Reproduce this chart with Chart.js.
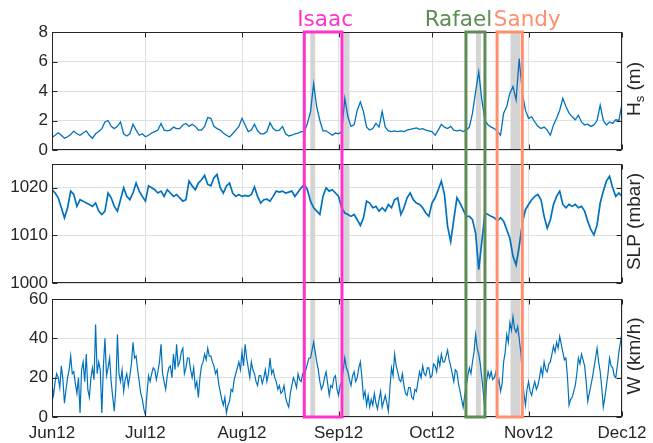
<!DOCTYPE html>
<html>
<head>
<meta charset="utf-8">
<script src="https://cdn.jsdelivr.net/npm/chart.js@4.4.0/dist/chart.umd.min.js"></script>
<style>
  html, body { margin: 0; padding: 0; background: #fff; }
  #wrap { position: relative; width: 653px; height: 443px; }
  #wrap canvas { position: absolute; left: 0; top: 0; }
</style>
</head>
<body>
<div id="wrap">
  <canvas id="chartHs" width="653" height="443"></canvas>
  <canvas id="chartSlp" width="653" height="443"></canvas>
  <canvas id="chartW" width="653" height="443"></canvas>
</div>
<script>
// days since 1 Jun 2012
const monthDays = [0, 30, 61, 92, 122, 153, 183];
const monthLabels = ['Jun12', 'Jul12', 'Aug12', 'Sep12', 'Oct12', 'Nov12', 'Dec12'];

const hsTicks = [0, 2, 4, 6, 8];
const slpTicks = [1000, 1010, 1020];
const wTicks = [0, 20, 40, 60];

// significant wave height (m), one value per day
const hsDaily = [
  0.85, 1.0, 1.17, 1.0, 0.8, 0.9, 1.05, 1.28, 1.1, 1.0,
  1.15, 1.3, 1.0, 0.8, 1.1, 1.25, 1.45, 1.9, 2.0, 1.6,
  1.45, 1.6, 1.9, 1.1, 0.95, 1.1, 1.75, 1.35, 1.0, 1.1,
  0.9, 1.0, 1.15, 1.25, 1.35, 1.8, 1.35, 1.3, 1.35, 1.55,
  1.45, 1.45, 1.7, 1.8, 1.6, 1.75, 1.6, 1.35, 1.35, 1.6,
  2.2, 2.15, 1.6, 1.45, 1.35, 1.15, 1.0, 0.88, 1.1, 1.35,
  1.6, 2.15, 1.7, 1.25, 1.35, 1.75, 1.3, 1.1, 1.1, 1.25,
  1.85, 1.45, 1.3, 1.35, 1.6, 1.1, 0.95, 1.0, 1.1, 1.15,
  1.25, 1.25, 1.8, 2.6, 4.5, 2.9, 2.0, 1.3, 1.3, 1.15,
  1.0, 1.15, 1.1, 1.25, 3.5, 2.25, 1.6, 1.7, 2.7, 3.25,
  2.6, 1.55, 1.35, 1.45, 1.8, 1.55, 2.6, 1.55, 1.3, 1.25,
  1.3, 1.25, 1.3, 1.25, 1.35, 1.4, 1.45, 1.5, 1.4, 1.45,
  1.35, 1.3, 1.25, 1.0, 1.35, 1.75, 1.55, 1.45, 1.6, 1.35,
  1.3, 1.35, 1.25, 1.35, 1.55, 2.5, 3.95, 5.3, 3.4, 2.0,
  1.7, 1.55, 1.45, 1.25, 1.0, 2.5, 2.95, 3.85, 4.3, 3.4,
  6.2, 3.85, 2.7, 2.15, 2.25, 1.9, 1.6, 1.45, 1.55, 1.35,
  1.0, 1.7, 2.15, 2.7, 3.5, 2.95, 2.5, 2.25, 2.05, 2.35,
  1.9, 1.7, 1.75, 1.6, 1.7, 2.0, 3.05, 2.0, 1.7, 1.9,
  1.8, 2.05, 2.0, 3.15
];

// sea level pressure (mbar), one value per day
const slpDaily = [
  1019.6, 1018.9, 1017.9, 1015.8, 1013.7, 1015.8, 1019.3, 1018.6, 1016.1, 1017.5,
  1017.2, 1016.8, 1016.5, 1016.1, 1016.8, 1015.1, 1014.4, 1015.1, 1018.9, 1017.9,
  1016.1, 1015.1, 1017.5, 1020.0, 1018.2, 1017.5, 1018.9, 1021.0, 1019.3, 1018.2,
  1017.2, 1020.4, 1020.0, 1019.6, 1018.9, 1019.3, 1018.2, 1019.6, 1018.9, 1018.2,
  1018.6, 1017.9, 1017.2, 1017.5, 1021.4, 1020.4, 1019.6, 1021.0, 1021.7, 1022.6,
  1020.7, 1020.4, 1022.1, 1022.8, 1020.0, 1018.9, 1020.4, 1021.0, 1018.9, 1018.2,
  1018.6, 1018.2, 1018.4, 1018.2, 1018.6, 1020.2, 1018.2, 1016.8, 1017.5, 1017.6,
  1017.2, 1018.2, 1019.3, 1019.1, 1019.3, 1018.9, 1019.1, 1019.3, 1018.2, 1019.1,
  1020.0, 1020.7, 1019.6, 1017.2, 1015.8, 1015.1, 1014.4, 1018.2, 1020.0, 1019.3,
  1019.6, 1018.9, 1018.2, 1015.8, 1014.7, 1014.4, 1014.0, 1014.4, 1013.3, 1012.1,
  1013.7, 1017.2, 1016.8, 1015.8, 1016.1, 1015.1, 1015.8, 1015.1, 1016.5, 1015.8,
  1017.5, 1017.9, 1014.4, 1015.8, 1017.9, 1018.9, 1017.5, 1016.8, 1016.5, 1015.8,
  1014.7, 1014.0, 1016.8, 1017.9, 1019.6, 1021.4, 1018.6, 1011.9, 1008.7, 1013.3,
  1017.9, 1016.8, 1015.4, 1014.0, 1014.0, 1013.3, 1010.5, 1002.8, 1008.7, 1014.7,
  1014.4, 1014.0, 1013.7, 1013.0, 1013.7, 1013.0, 1011.2, 1009.4, 1005.6, 1003.8,
  1007.7, 1012.6, 1015.4, 1016.5, 1017.5, 1018.2, 1018.6, 1017.5, 1014.0, 1011.5,
  1013.3, 1016.5, 1018.2, 1019.3, 1016.5, 1015.8, 1016.5, 1016.1, 1016.5, 1015.8,
  1016.1, 1015.1, 1013.0, 1011.2, 1010.1, 1012.2, 1016.8, 1019.3, 1021.4, 1022.4,
  1020.0, 1018.2, 1018.9, 1018.2
];

// wind speed (km/h), two values per day
const windHalfDay = [
  16, 11, 18, 22, 20, 15, 26, 19, 7, 14, 20, 24, 31, 22, 23, 17, 12, 20, 2, 24,
  28, 18, 32, 14, 10, 20, 25, 19, 47, 22, 28, 24, 2, 26, 40, 21, 25, 30, 18, 10,
  3, 15, 42, 22, 18, 24, 13, 19, 22, 16, 21, 27, 38, 30, 31, 24, 18, 12, 9, 4,
  1, 12, 21, 18, 22, 25, 24, 19, 23, 28, 37, 22, 18, 14, 21, 25, 26, 20, 32, 24,
  37, 26, 28, 33, 35, 22, 25, 30, 30, 24, 20, 25, 15, 18, 10, 20, 26, 28, 32, 29,
  35, 31, 31, 28, 26, 22, 24, 17, 13, 9, 6, 10, 2, 6, 8, 14, 13, 19, 22, 25,
  28, 24, 33, 26, 37, 30, 25, 20, 28, 24, 22, 18, 16, 21, 21, 17, 20, 24, 18, 22,
  30, 22, 24, 20, 18, 14, 16, 12, 13, 16, 10, 7, 5, 12, 16, 20, 18, 15, 22, 19,
  18, 22, 21, 24, 27, 30, 30, 34, 38, 33, 28, 24, 18, 14, 16, 20, 23, 17, 11, 16,
  15, 20, 21, 14, 11, 16, 18, 24, 30, 25, 23, 19, 16, 21, 23, 18, 20, 25, 28, 20,
  10, 13, 6, 11, 5, 9, 6, 12, 7, 4, 9, 13, 5, 8, 11, 7, 3, 15, 25, 21,
  32, 26, 23, 19, 18, 22, 16, 12, 11, 15, 15, 10, 9, 14, 13, 18, 23, 20, 26, 22,
  21, 25, 25, 20, 21, 27, 26, 23, 30, 26, 32, 28, 28, 31, 34, 29, 26, 22, 18, 24,
  23, 17, 13, 9, 5, 11, 16, 21, 25, 22, 28, 33, 42, 35, 32, 27, 20, 12, 3, 18,
  23, 20, 23, 19, 20, 23, 16, 19, 13, 17, 28, 33, 42, 38, 48, 44, 51, 45, 43, 46,
  40, 33, 21, 12, 6, 14, 18, 13, 11, 15, 18, 14, 16, 20, 25, 21, 28, 24, 23, 27,
  28, 32, 36, 33, 38, 35, 41, 37, 33, 29, 30, 20, 6, 9, 10, 13, 16, 22, 30, 27,
  32, 29, 26, 18, 8, 12, 16, 20, 25, 30, 35, 28, 23, 15, 5, 10, 16, 22, 30, 26,
  25, 21, 20, 26, 33, 38, 43
];

// storms (days since 1 Jun)
const stormNames = ['Isaac', 'Rafael', 'Sandy'];
const stormStart = [81.0, 132.9, 142.9];
const stormEnd = [93.1, 139.0, 151.0];
// shaded periods
const bandStart = [82.9, 93.6, 136.1, 147.2];
const bandEnd = [84.5, 95.5, 137.7, 150.3];

// ---- styles ----
const lineColor = '#0072BD';
const gridColor = '#E0E0E0';
const axisColor = '#262626';
const bandColor = '#D4D4D4';
const stormColors = ['#FF33CC', '#5D8C55', '#FF8F6E'];
const stormLabelShift = [2, -17, 17.5];
const fontFamily = '"Liberation Sans", Arial, sans-serif';

// right-hand axis titles, pieces drawn one after another
const axisTitles = {
  chartHs: [{ text: 'H', size: 19 }, { text: 's', size: 13, shift: 4 }, { text: ' (m)', size: 19 }],
  chartSlp: [{ text: 'SLP (mbar)', size: 19 }],
  chartW: [{ text: 'W (km/h)', size: 19 }]
};

Chart.defaults.font.family = fontFamily;
Chart.defaults.color = axisColor;

const panelFrame = {
  id: 'panelFrame',
  beforeDatasetsDraw(chart) {
    const { ctx, chartArea: a, scales: { x } } = chart;
    ctx.save();
    ctx.fillStyle = bandColor;
    bandStart.forEach((s, i) => {
      const x0 = x.getPixelForValue(s);
      const x1 = x.getPixelForValue(bandEnd[i]);
      ctx.fillRect(x0, a.top, x1 - x0, a.bottom - a.top);
    });
    ctx.restore();
  },
  afterDatasetsDraw(chart) {
    const { ctx, chartArea: a, scales: { x, y } } = chart;
    ctx.save();
    ctx.strokeStyle = axisColor;
    ctx.lineWidth = 1;
    const l = Math.round(a.left) + 0.5, r = Math.round(a.right) - 0.5;
    const t = Math.round(a.top) + 0.5, b = Math.round(a.bottom) - 0.5;
    ctx.strokeRect(l, t, r - l, b - t);
    const tl = 5;
    ctx.beginPath();
    x.ticks.forEach(tk => {
      const px = Math.round(x.getPixelForValue(tk.value)) + 0.5;
      ctx.moveTo(px, t); ctx.lineTo(px, t + tl);
      ctx.moveTo(px, b); ctx.lineTo(px, b - tl);
    });
    y.ticks.forEach(tk => {
      const py = Math.round(y.getPixelForValue(tk.value)) + 0.5;
      ctx.moveTo(l, py); ctx.lineTo(l + tl, py);
      ctx.moveTo(r, py); ctx.lineTo(r - tl, py);
    });
    ctx.stroke();

    // axis title on the right, reading bottom to top
    const pieces = axisTitles[chart.canvas.id] || [];
    ctx.translate(640, (a.top + a.bottom) / 2 - 2);
    ctx.rotate(-Math.PI / 2);
    ctx.fillStyle = axisColor;
    ctx.textBaseline = 'alphabetic';
    ctx.textAlign = 'left';
    let total = 0;
    pieces.forEach(p => {
      ctx.font = p.size + 'px ' + fontFamily;
      total += ctx.measureText(p.text).width;
    });
    let cx = -total / 2;
    pieces.forEach(p => {
      ctx.font = p.size + 'px ' + fontFamily;
      ctx.fillText(p.text, cx, p.shift || 0);
      cx += ctx.measureText(p.text).width;
    });
    ctx.restore();
  }
};

const stormBoxes = {
  id: 'stormBoxes',
  afterDraw(chart) {
    const { ctx, scales: { x } } = chart;
    const top = chartHs.chartArea.top;
    const bottom = chart.chartArea.bottom;
    ctx.save();
    stormNames.forEach((name, i) => {
      const x0 = x.getPixelForValue(stormStart[i]);
      const x1 = x.getPixelForValue(stormEnd[i]);
      ctx.strokeStyle = stormColors[i];
      ctx.lineWidth = 3;
      ctx.strokeRect(x0, top, x1 - x0, bottom - top);
      ctx.fillStyle = stormColors[i];
      ctx.font = '21.5px "DejaVu Sans"';
      ctx.textAlign = 'center';
      ctx.textBaseline = 'alphabetic';
      ctx.fillText(name, (x0 + x1) / 2 + stormLabelShift[i], 26);
    });
    ctx.restore();
  }
};

function makeChart(id, xs, ys, yMin, yMax, yTicks, pad, showX, lineWidth, extraPlugins) {
  const pts = ys.map((v, i) => ({ x: xs[i], y: v }));
  return new Chart(document.getElementById(id), {
    type: 'line',
    data: {
      datasets: [{
        data: pts,
        borderColor: lineColor,
        borderWidth: lineWidth,
        pointRadius: 0,
        tension: 0
      }]
    },
    options: {
      responsive: false,
      animation: false,
      devicePixelRatio: 1,
      parsing: false,
      layout: { padding: pad },
      plugins: {
        legend: { display: false },
        tooltip: { enabled: false }
      },
      scales: {
        x: {
          type: 'linear',
          min: 0,
          max: 183,
          afterBuildTicks: s => { s.ticks = monthDays.map(v => ({ value: v })); },
          afterFit: s => { s.height = showX ? 26 : 0; },
          grid: { color: gridColor, drawTicks: false },
          border: { display: false },
          ticks: {
            display: showX,
            padding: 6,
            maxRotation: 0,
            autoSkip: false,
            font: { size: 17 },
            callback: v => monthLabels[monthDays.indexOf(v)]
          }
        },
        y: {
          min: yMin,
          max: yMax,
          afterBuildTicks: s => { s.ticks = yTicks.map(v => ({ value: v })); },
          afterFit: s => { s.width = 52; },
          grid: { color: gridColor, drawTicks: false },
          border: { display: false },
          ticks: { padding: 4, font: { size: 17 }, callback: v => String(v) }
        }
      }
    },
    plugins: [panelFrame].concat(extraPlugins || [])
  });
}

const dayIdx = hsDaily.map((v, i) => i);
const halfDayIdx = windHalfDay.map((v, i) => i / 2);

const chartHs = makeChart('chartHs', dayIdx, hsDaily, 0, 8, hsTicks,
  { left: 0, right: 31, top: 32, bottom: 293 }, false, 1.3);

const chartSlp = makeChart('chartSlp', dayIdx, slpDaily, 1000, 1025, slpTicks,
  { left: 0, right: 31, top: 164, bottom: 160 }, false, 1.7);

const chartW = makeChart('chartW', halfDayIdx, windHalfDay, 0, 60, wTicks,
  { left: 0, right: 31, top: 299, bottom: 0 }, true, 1.2, [stormBoxes]);
</script>
</body>
</html>
